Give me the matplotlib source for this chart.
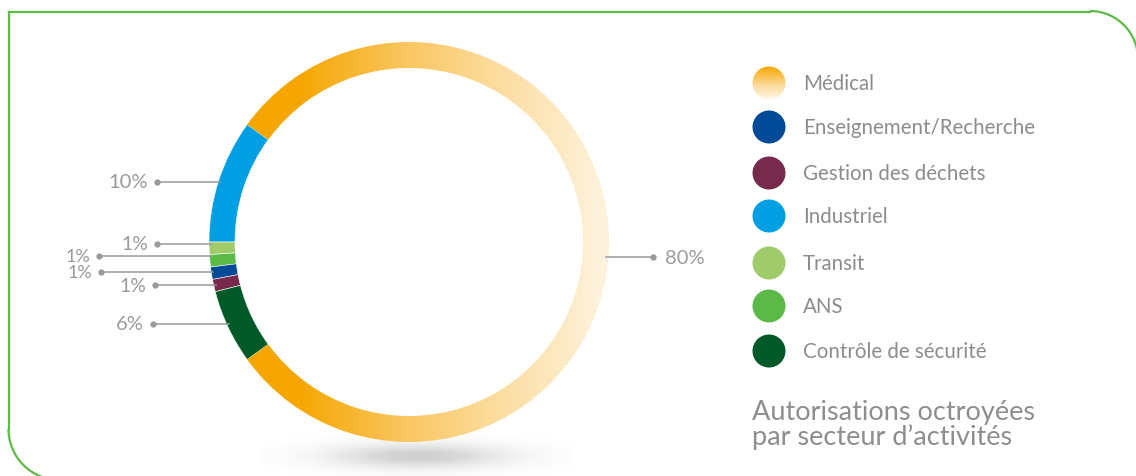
import numpy as np
import matplotlib.pyplot as plt
from matplotlib.patches import Arc, Circle
from matplotlib.colors import LinearSegmentedColormap

# data, in drawing order (counter-clockwise from the top of "Industriel")
sectors = ['Industriel', 'Transit', 'ANS', 'Enseignement/Recherche',
           'Gestion des déchets', 'Contrôle de sécurité', 'Médical']
shares = [10, 1, 1, 1, 1, 6, 80]
pct_labels = ['10%', '1%', '1%', '1%', '1%', '6%', '80%']
legend_order = ['Médical', 'Enseignement/Recherche', 'Gestion des déchets',
                'Industriel', 'Transit', 'ANS', 'Contrôle de sécurité']
title = 'Autorisations octroyées\npar secteur d\u2019activités'

sector_colors = {
    'Industriel': '#009FE3',
    'Transit': '#A0CB6A',
    'ANS': '#5BB947',
    'Enseignement/Recherche': '#004A98',
    'Gestion des déchets': '#772A4B',
    'Contrôle de sécurité': '#005A28',
    'Médical': 'none',
}

# layout (pixels, image coords with y downward)
W, H = 1136, 477
cx, cy = 409, 243
R, ring = 200, 26
label_y = [183, 245, 257, 273, 286, 325, 258]
label_dot_x = [157, 157, 99, 101, 155, 153, 653]
label_size = [14.5, 14, 13, 13, 14, 14.5, 14.5]
ORANGE = '#F6A600'
PALE = '#FEF2DB'
GRAY = '#9A9A9A'

plt.rcParams['font.family'] = ['Lato', 'DejaVu Sans']

fig = plt.figure(figsize=(W / 100, H / 100), dpi=100)
ax = fig.add_axes([0, 0, 1, 1])


def Y(y):
    return H - y


wedges, _ = ax.pie(shares, colors=[sector_colors[s] for s in sectors],
                   startangle=144, counterclock=True,
                   center=(cx, Y(cy)), radius=R,
                   wedgeprops=dict(width=ring, edgecolor='white', linewidth=0.4))

# gradient on the Médical slice (left to right, orange to pale)
med = wedges[sectors.index('Médical')]
med.set_edgecolor('none')
grad_cmap = LinearSegmentedColormap.from_list('med', [ORANGE, '#F9C45A', '#FCDDA0', PALE])
gx = np.linspace(0, 1, 256)
gx = np.clip((gx - 0.22) / 0.76, 0, 1)
img = ax.imshow(np.tile(gx, (2, 1)), cmap=grad_cmap, aspect='auto',
                extent=(cx - R, cx + R, Y(cy + R), Y(cy - R)), zorder=1)
img.set_clip_path(med)

# soft shadow under the ring
sx = np.linspace(-1, 1, 300)
sy = np.linspace(-1, 1, 60)
SX, SY = np.meshgrid(sx, sy)
alpha = 0.45 * np.exp(-(SX ** 2) * 3.2 - (SY ** 2) * 4.0)
shadow = np.zeros((60, 300, 4))
shadow[..., :3] = 0.58
shadow[..., 3] = alpha
ax.imshow(shadow, extent=(262, 574, Y(482), Y(432)), aspect='auto', zorder=0)

# leader lines and percentages
for name, lab, y, dx, fs in zip(sectors, pct_labels, label_y, label_dot_x, label_size):
    dy = y - cy
    edge = np.sqrt(R ** 2 - dy ** 2)
    if dx < cx:
        x0 = cx - edge + 2
        ha, tx = 'right', dx - 9
    else:
        x0 = cx + edge - 2
        ha, tx = 'left', dx + 12
    ax.plot([x0, dx], [Y(y), Y(y)], color=GRAY, lw=1.1, zorder=3)
    ax.plot(dx, Y(y), 'o', color=GRAY, ms=3.5, zorder=3)
    ax.text(tx, Y(y), lab, ha=ha, va='center', fontsize=fs, color=GRAY)

# legend
leg_y = [84, 128, 174, 217, 264, 307, 352]
for name, y in zip(legend_order, leg_y):
    if name == 'Médical':
        c = Circle((769, Y(y)), 16.5, facecolor='none', edgecolor='none')
        ax.add_patch(c)
        vg = ax.imshow(np.linspace(0, 1, 128).reshape(-1, 1),
                       cmap=LinearSegmentedColormap.from_list('v', [ORANGE, '#FBD48A', '#FFFBF2']),
                       extent=(752, 786, Y(y + 17), Y(y - 17)), aspect='auto', zorder=2)
        vg.set_clip_path(c)
    else:
        ax.add_patch(Circle((769, Y(y)), 16.5, color=sector_colors[name], lw=0))
    ax.text(803, Y(y), name, ha='left', va='center', fontsize=14.8, color='#8C8C8C')

ax.text(752, Y(425), title, ha='left', va='center', fontsize=19.5,
        color='#8E8E8E', linespacing=0.98)

# green frame
green = '#5DBB46'
ax.plot([8.5, 1090], [Y(12.5), Y(12.5)], color=green, lw=1.6)
ax.add_patch(Arc((1090, Y(60)), 96, 96, theta1=-10, theta2=90, color=green, lw=1.6))
ax.plot([8.5, 8.5], [Y(12.5), Y(430)], color=green, lw=1.6)
ax.add_patch(Arc((59.5, Y(430)), 102, 102, theta1=180, theta2=270, color=green, lw=1.6))

ax.set_xlim(0, W)
ax.set_ylim(0, H)
ax.axis('off')

fig.savefig('out.png', dpi=100, facecolor='white')
